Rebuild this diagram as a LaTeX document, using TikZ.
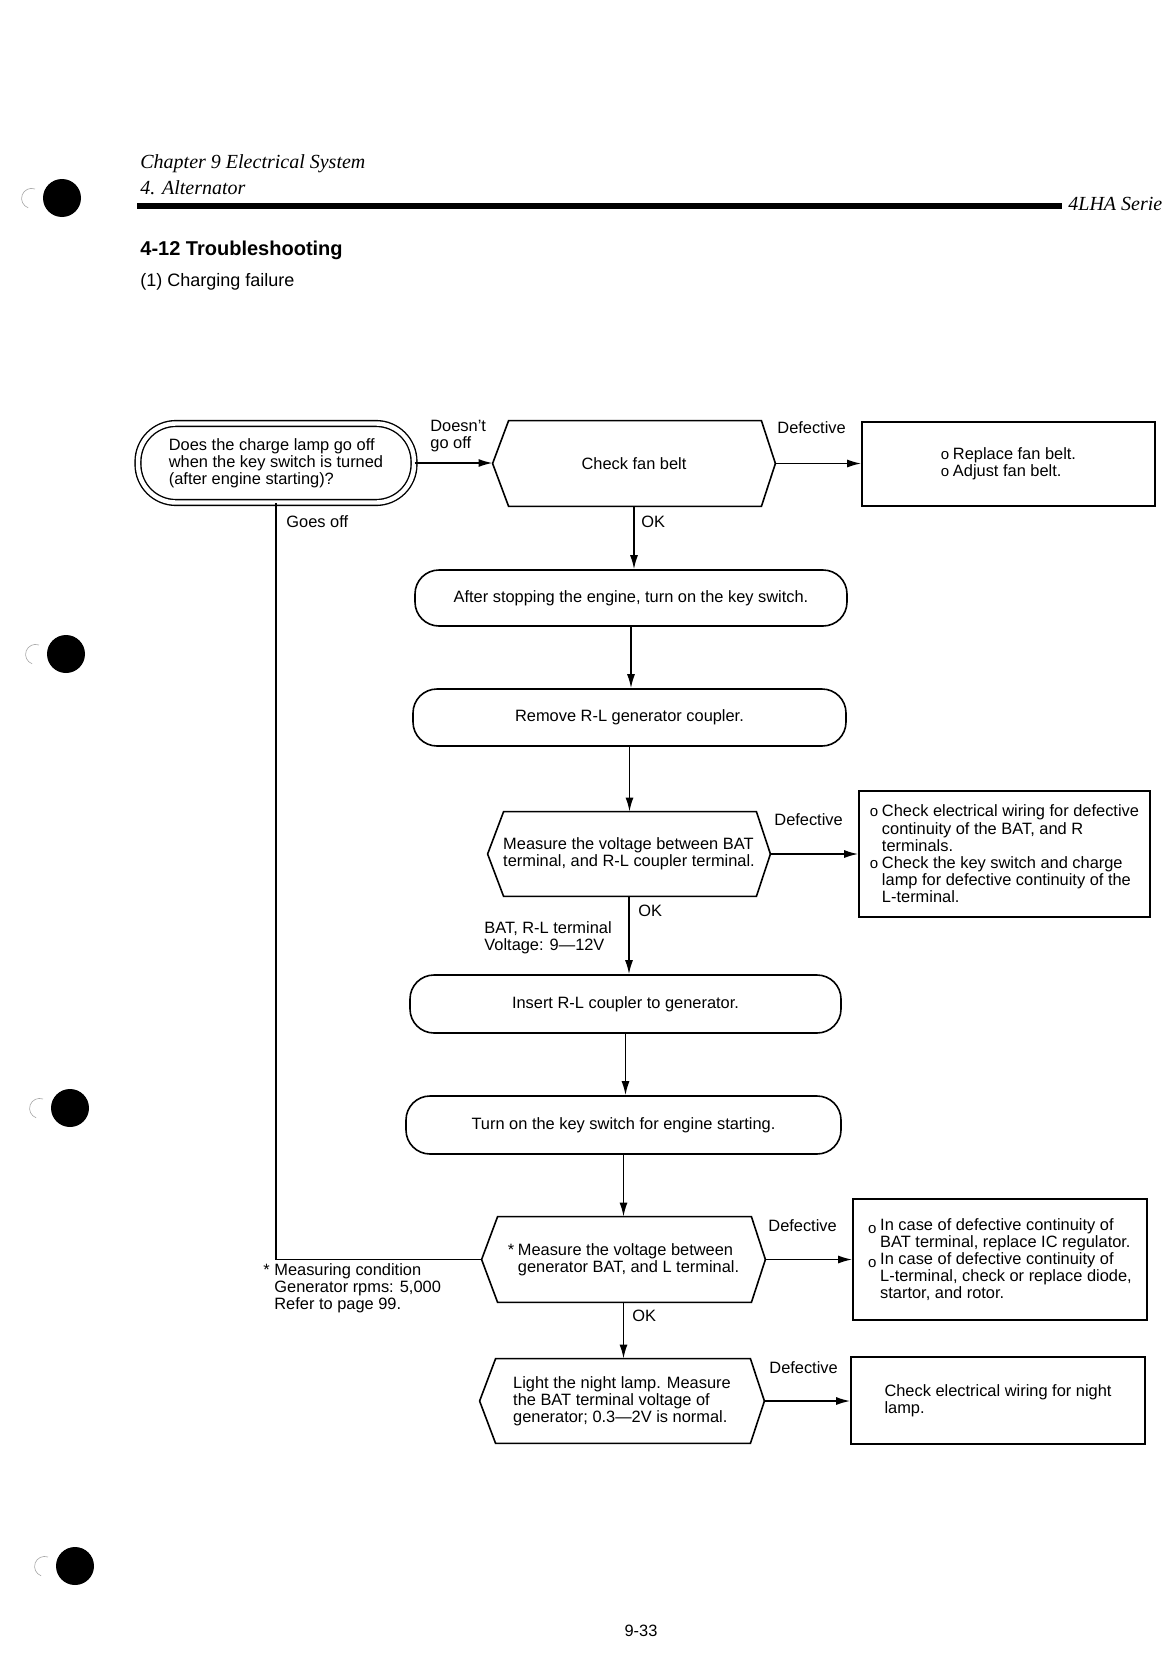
\documentclass[tikz,border=0pt]{standalone}
\usepackage{fontspec}
\setmainfont{Liberation Sans}
\newfontfamily\headfont{Liberation Serif}
\usetikzlibrary{arrows.meta,calc}

\newcommand{\bul}{\makebox[6pt][l]{\raisebox{0.2pt}{\fontsize{7.5}{7.5}\selectfont o}}}
\newcommand{\lowbul}{\makebox[6pt][l]{\raisebox{-1.5pt}{\fontsize{7.5}{7.5}\selectfont o}}}
\newcommand{\bulpad}{\hspace*{6pt}}

\begin{document}
\begin{tikzpicture}[x=0.5pt,y=-0.5pt,
  box/.style={draw, line width=0.8pt},
  term/.style={box, rounded corners=12pt, inner sep=0pt, font=\fontsize{8.2}{8.6}\selectfont},
  hexa/.style={inner sep=0pt, align=left, font=\fontsize{8.2}{8.6}\selectfont},
  remedy/.style={box, inner sep=0pt, align=left, font=\fontsize{8.2}{8.6}\selectfont},
  lbl/.style={inner sep=0pt, anchor=west, align=left, font=\fontsize{8.2}{8.6}\selectfont},
  head/.style={inner sep=0pt, anchor=west, font=\headfont\itshape\fontsize{10}{12}\selectfont},
  wire/.style={line width=0.8pt},
  flow/.style={wire, -{Latex[length=7pt,width=4pt]}}]

\useasboundingbox (0,0) rectangle (1176,1675);

\def\hexl{16}
\def\hexr{14}

\foreach \hx/\hy in {62/198, 66/654, 70/1108, 75/1566} {
  \fill (\hx,\hy) circle (9.5pt);
  \draw[gray!70, line width=0.3pt] (\hx-27,\hy-9) arc[start angle=70, end angle=250, radius=5pt];
}

\node[head] (chap) at (140,164) {Chapter 9 Electrical System};
\node[head] (sect) at (140,188) {4. Alternator};
\fill (137,203) rectangle (1062,209);
\node[head] (serie) at (1068,204) {4LHA Serie};
\node[inner sep=0pt, anchor=west, font=\bfseries\fontsize{10}{12}\selectfont] (title) at (140,250) {4-12 Troubleshooting};
\node[inner sep=0pt, anchor=west, font=\fontsize{9}{11}\selectfont] (sub) at (140,282) {(1) Charging failure};

\node[box, double, double distance=2.2pt, line width=0.7pt, rounded corners=19pt, minimum width=138pt, minimum height=39.5pt, inner sep=0pt, align=left, font=\fontsize{8.2}{8.6}\selectfont] (start) at (276,463) {Does the charge lamp go off\\when the key switch is turned\\(after engine starting)?};
\node[hexa, minimum width=141pt, minimum height=42.5pt] (fan) at (634,463.5) {Check fan belt};
\node[remedy, minimum width=146.5pt, minimum height=42pt] (belt) at (1008.5,464) {\bul Replace fan belt.\\\bul Adjust fan belt.};
\node[term, minimum width=216pt, minimum height=28pt] (after) at (631,598) {After stopping the engine, turn on the key switch.};
\node[term, minimum width=216.5pt, minimum height=28.5pt] (remove) at (629.5,717.5) {Remove R-L generator coupler.};
\node[hexa, minimum width=141pt, minimum height=42pt] (meas1) at (629,854) {Measure the voltage between BAT\\terminal, and R-L coupler terminal.};
\node[remedy, minimum width=145.5pt, minimum height=63pt] (wiring) at (1004.5,854) {\bul Check electrical wiring for defective\\\bulpad continuity of the BAT, and R\\\bulpad terminals.\\\bul Check the key switch and charge\\\bulpad lamp for defective continuity of the\\\bulpad L-terminal.};
\node[term, minimum width=215.5pt, minimum height=29pt] (insert) at (625.5,1004) {Insert R-L coupler to generator.};
\node[term, minimum width=217.5pt, minimum height=29pt] (turnon) at (623.5,1125) {Turn on the key switch for engine starting.};
\node[hexa, minimum width=141.5pt, minimum height=42.5pt] (meas2) at (623.5,1259.5) {\makebox[5pt][l]{*}Measure the voltage between\\\hspace*{5pt}generator BAT, and L terminal.};
\node[remedy, minimum width=147pt, minimum height=60.5pt] (regul) at (1000,1259.5) {\lowbul In case of defective continuity of\\\bulpad BAT terminal, replace IC regulator.\\\lowbul In case of defective continuity of\\\bulpad L-terminal, check or replace diode,\\\bulpad startor, and rotor.};
\node[hexa, minimum width=142pt, minimum height=42pt] (lamp) at (622,1401) {Light the night lamp. Measure\\the BAT terminal voltage of\\generator; 0.3—2V is normal.};
\node[remedy, minimum width=147pt, minimum height=43.5pt] (night) at (998,1400.5) {Check electrical wiring for night\\lamp.};

\foreach \h in {fan,meas1,meas2,lamp}
  \draw[box] (\h.west) -- ($(\h.north west)+(\hexl,0)$) -- ($(\h.north east)+(-\hexr,0)$) -- (\h.east) -- ($(\h.south east)+(-\hexr,0)$) -- ($(\h.south west)+(\hexl,0)$) -- cycle;

\draw[flow] (start.east) -- (start.east -| fan.west);
\draw[flow] (fan.east) -- (fan.east -| belt.west);
\draw[flow] (fan.south) -- (fan.south |- after.north);
\draw[flow] (after.south) -- (after.south |- remove.north);
\draw[flow] (remove.south) -- (remove.south |- meas1.north);
\draw[flow] (meas1.east) -- (meas1.east -| wiring.west);
\draw[flow] (meas1.south) -- (meas1.south |- insert.north);
\draw[flow] (insert.south) -- (insert.south |- turnon.north);
\draw[flow] (turnon.south) -- (turnon.south |- meas2.north);
\draw[flow] (meas2.east) -- (meas2.east -| regul.west);
\draw[flow] (meas2.south) -- (meas2.south |- lamp.north);
\draw[flow] (lamp.east) -- (lamp.east -| night.west);
\draw[wire] (start.south) |- (meas2.west);

\node[lbl, anchor=north west] (nogo) at (430,420) {Doesn't\\go off};
\node[lbl] (def1) at (777,428) {Defective};
\node[lbl] (goes) at (286,522) {Goes off};
\node[lbl] (ok1) at (641,522) {OK};
\node[lbl] (def2) at (774,820) {Defective};
\node[lbl] (ok2) at (638,911) {OK};
\node[lbl, anchor=north west] (volt) at (484,921) {BAT, R-L terminal\\Voltage: 9—12V};
\node[lbl] (def3) at (768,1226) {Defective};
\node[lbl, anchor=north west] (cond) at (263,1263) {\makebox[5.5pt][l]{*}Measuring condition\\\hspace*{5.5pt}Generator rpms: 5,000\\\hspace*{5.5pt}Refer to page 99.};
\node[lbl] (ok3) at (632,1316) {OK};
\node[lbl] (def4) at (769,1368) {Defective};
\node[lbl, anchor=center] (page) at (641,1631) {9-33};

\end{tikzpicture}
\end{document}
